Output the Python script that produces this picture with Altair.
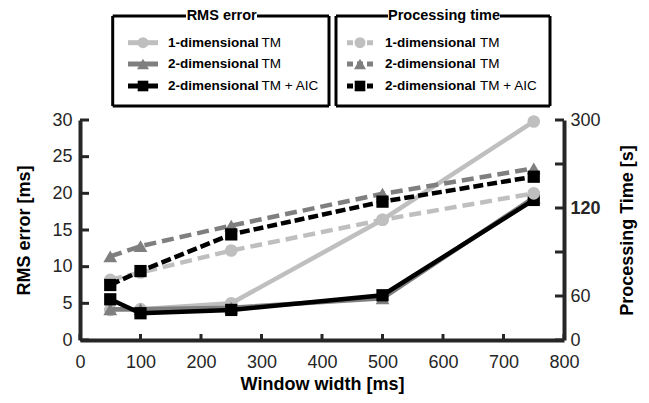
import altair as alt
import pandas as pd

# ---------------- data ----------------
window_ms = [50, 100, 250, 500, 750]
rms_1d = [4.1, 4.2, 5.0, 16.4, 29.8]
rms_2d = [4.2, 4.2, 4.4, 5.7, 19.4]
rms_aic = [5.55, 3.65, 4.1, 6.1, 19.1]
pt_1d = [71, 76, 91, 112, 150]
pt_2d = [87, 94, 108, 149, 201]
pt_aic = [67.5, 77, 102, 133, 184]

series_bold = ["1-dimensional", "2-dimensional", "2-dimensional"]
series_rest = ["TM", "TM", "TM + AIC"]
legend_titles = ["RMS error", "Processing time"]

rms_ticks = [0, 5, 10, 15, 20, 25, 30]
pt_tick_marks = [0, 60, 90, 120, 210, 300]
pt_tick_labels = [0, 60, 120, 300]
x_ticks = [0, 100, 200, 300, 400, 500, 600, 700, 800]

# ---------------- styles ----------------
W, H = 484, 220
FONT = "Liberation Sans"
AX = "#262626"
colors = ["#bfbfbf", "#7f7f7f", "#000000"]
shapes = ["circle", "triangle-up", "square"]
sizes = [160, 190, 150]
dashes = [[12, 6], [12, 6], [10, 4]]

x_scale = alt.Scale(domain=[0, 800], nice=False, zero=False)
rms_scale = alt.Scale(domain=[0, 30], nice=False, zero=False)
pt_scale = alt.Scale(domain=[0, 60, 120, 300], range=[H, H * 0.8, H * 0.4, 0],
                     nice=False, zero=False)

x_axis = alt.Axis(title="Window width [ms]", values=x_ticks, ticks=False, grid=False,
                  domainWidth=4, domainColor=AX, labelFontSize=18, labelColor=AX,
                  labelPadding=13, labelFlush=False, titleFontSize=18, titleFontWeight="bold",
                  titleColor="black", titlePadding=4)
rms_axis = alt.Axis(title="RMS error [ms]", values=rms_ticks, ticks=False, grid=False,
                    domainWidth=4, domainColor=AX, labelFontSize=18, labelColor=AX,
                    labelPadding=8, labelFlush=False, titleFontSize=18, titleFontWeight="bold",
                    titleColor="black", titlePadding=18)
pt_axis = alt.Axis(title="Processing Time [s]", orient="right", values=pt_tick_labels,
                   ticks=False, grid=False, domainWidth=4, domainColor=AX,
                   labelFontSize=18, labelColor=AX, labelPadding=6, labelFlush=False,
                   labelFontWeight={"condition": {"test": "datum.value == 120", "value": "bold"},
                                    "value": "normal"},
                   titleFontSize=18, titleFontWeight="bold", titleColor="black",
                   titleAngle=270, titlePadding=36)

rms_values = [rms_1d, rms_2d, rms_aic]
pt_values = [pt_1d, pt_2d, pt_aic]

# ---------------- left (RMS) group ----------------
left_layers = []
for i in range(3):
    df = pd.DataFrame({"window": window_ms, "rms": rms_values[i]})
    base = alt.Chart(df).encode(
        x=alt.X("window:Q", scale=x_scale, axis=x_axis),
        y=alt.Y("rms:Q", scale=rms_scale, axis=rms_axis),
    )
    left_layers.append(base.mark_line(color=colors[i], strokeWidth=4.5))
    left_layers.append(base.mark_point(shape=shapes[i], filled=True, opacity=1,
                                       color=colors[i], size=sizes[i]))

# inward ticks
rt = alt.Chart(pd.DataFrame({"rms": rms_ticks})).mark_rule(color=AX, strokeWidth=3).encode(
    y=alt.Y("rms:Q", scale=rms_scale, axis=rms_axis), x=alt.value(0), x2=alt.value(9))
xt = alt.Chart(pd.DataFrame({"window": x_ticks})).mark_rule(color=AX, strokeWidth=3).encode(
    x=alt.X("window:Q", scale=x_scale, axis=x_axis), y=alt.value(H - 6), y2=alt.value(H))
left_layers += [rt, xt]

# ---------------- legends ----------------
dummy = alt.Data(values=[{}])
leg = []
boxes = [
    dict(l=32.7, r=249, gap=(106, 177), tx=141.7, lx=(48, 78), mx=63, bx=88, rx=181.5, dashed=False),
    dict(l=256, r=470, gap=(308, 420), tx=364, lx=(267, 293), mx=280, bx=305, rx=400, dashed=True),
]
top, bottom = -104, -14
rows = [-77.3, -56, -34]
for b, box in enumerate(boxes):
    segs = [
        (box["l"], top, box["l"], bottom),
        (box["r"], top, box["r"], bottom),
        (box["l"], bottom, box["r"], bottom),
        (box["l"], top, box["gap"][0], top),
        (box["gap"][1], top, box["r"], top),
    ]
    for (x1, y1, x2, y2) in segs:
        leg.append(alt.Chart(dummy).mark_rule(color="black", strokeWidth=3).encode(
            x=alt.value(x1), y=alt.value(y1), x2=alt.value(x2), y2=alt.value(y2)))
    leg.append(alt.Chart(dummy).mark_text(font=FONT, fontSize=14.5, fontWeight="bold",
                                          align="center", baseline="middle", color="black").encode(
        x=alt.value(box["tx"]), y=alt.value(top), text=alt.value(legend_titles[b])))
    for i in range(3):
        y = rows[i]
        if box["dashed"]:
            line = alt.Chart(dummy).mark_rule(color=colors[i], strokeWidth=5, strokeDash=[6, 4])
        else:
            line = alt.Chart(dummy).mark_rule(color=colors[i], strokeWidth=5)
        leg.append(line.encode(x=alt.value(box["lx"][0]), x2=alt.value(box["lx"][1]),
                               y=alt.value(y), y2=alt.value(y)))
        leg.append(alt.Chart(dummy).mark_point(shape=shapes[i], filled=True, opacity=1,
                                               color=colors[i], size=sizes[i] * 0.75).encode(
            x=alt.value(box["mx"]), y=alt.value(y)))
        leg.append(alt.Chart(dummy).mark_text(font=FONT, fontSize=13.5, fontWeight="bold",
                                              align="left", baseline="middle", color="black").encode(
            x=alt.value(box["bx"]), y=alt.value(y), text=alt.value(series_bold[i])))
        leg.append(alt.Chart(dummy).mark_text(font=FONT, fontSize=13.5, fontWeight="normal",
                                              align="left", baseline="middle", color="black").encode(
            x=alt.value(box["rx"]), y=alt.value(y), text=alt.value(series_rest[i])))

left_group = alt.layer(*left_layers, *leg)

# ---------------- right (processing time) group ----------------
right_layers = []
for i in range(3):
    df = pd.DataFrame({"window": window_ms, "pt": pt_values[i]})
    base = alt.Chart(df).encode(
        x=alt.X("window:Q", scale=x_scale, axis=x_axis),
        y=alt.Y("pt:Q", scale=pt_scale, axis=pt_axis),
    )
    right_layers.append(base.mark_line(color=colors[i], strokeWidth=4.5, strokeDash=dashes[i]))
    right_layers.append(base.mark_point(shape=shapes[i], filled=True, opacity=1,
                                        color=colors[i], size=sizes[i]))
ptt = alt.Chart(pd.DataFrame({"pt": pt_tick_marks})).mark_rule(color=AX, strokeWidth=3).encode(
    y=alt.Y("pt:Q", scale=pt_scale, axis=pt_axis), x=alt.value(W - 9), x2=alt.value(W))
right_layers.append(ptt)
right_group = alt.layer(*right_layers)

chart = alt.layer(left_group, right_group).resolve_scale(y="independent").properties(
    width=W, height=H,
    padding={"left": 80, "top": 120, "right": 85, "bottom": 63},
    autosize=alt.AutoSizeParams(type="none"),
).configure(font=FONT).configure_view(stroke=None)

chart.save("out.html", embed_options={"renderer": "svg", "actions": False})
